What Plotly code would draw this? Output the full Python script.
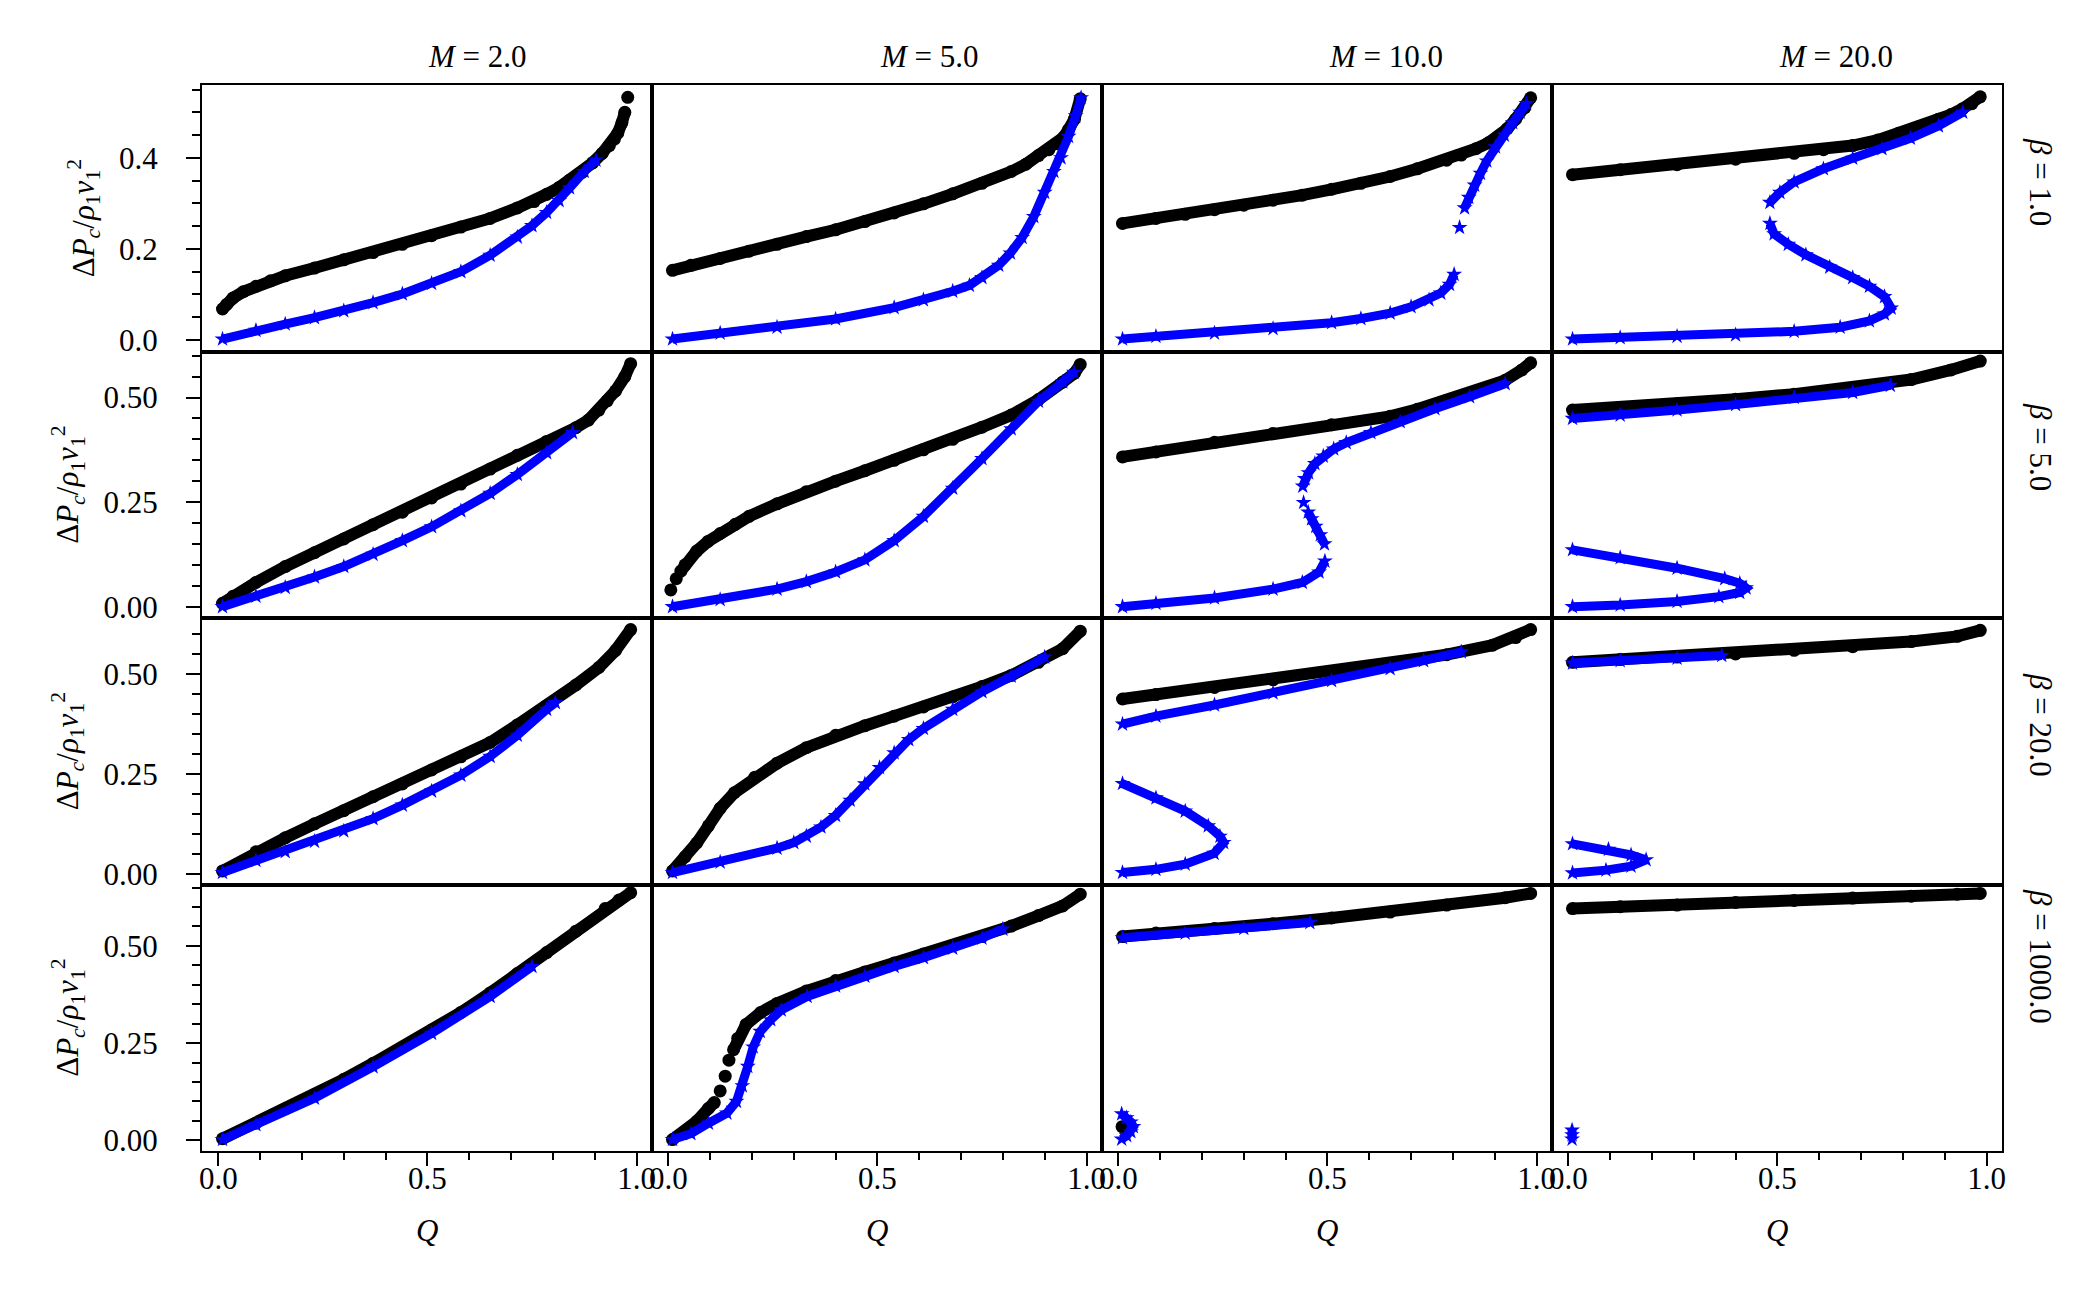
import plotly.graph_objects as go
from plotly.subplots import make_subplots

# ---------------- column / row labels ----------------
M_LABELS = ["2.0", "5.0", "10.0", "20.0"]
BETA_LABELS = ["1.0", "5.0", "20.0", "1000.0"]

# ---------------- data ----------------
# Row 1 : beta = 1.0
Q_M2_B1_K = [0.01, 0.02, 0.035, 0.06, 0.09, 0.125, 0.16, 0.23, 0.30, 0.37, 0.44, 0.51, 0.58, 0.65, 0.715, 0.755, 0.785, 0.815, 0.84, 0.87, 0.895, 0.918, 0.935, 0.947, 0.955, 0.965, 0.972, None, 0.979]
P_M2_B1_K = [0.068, 0.078, 0.092, 0.106, 0.118, 0.130, 0.141, 0.158, 0.176, 0.192, 0.21, 0.229, 0.248, 0.267, 0.29, 0.304, 0.32, 0.335, 0.351, 0.368, 0.389, 0.410, 0.427, 0.441, 0.454, 0.477, 0.50, None, 0.533]
Q_M2_B1_S = [0.01, 0.09, 0.16, 0.23, 0.30, 0.37, 0.44, 0.51, 0.58, 0.65, 0.715, 0.75, 0.785, 0.815, 0.84, 0.875, 0.903]
P_M2_B1_S = [0.002, 0.021, 0.035, 0.049, 0.064, 0.082, 0.101, 0.124, 0.150, 0.186, 0.226, 0.251, 0.280, 0.306, 0.334, 0.370, 0.395]

Q_M5_B1_K = [0.01, 0.054, 0.124, 0.193, 0.26, 0.33, 0.40, 0.47, 0.54, 0.61, 0.68, 0.75, 0.82, 0.855, 0.885, 0.91, 0.93, 0.945, 0.957, 0.971, 0.985]
P_M5_B1_K = [0.153, 0.164, 0.179, 0.195, 0.21, 0.227, 0.242, 0.26, 0.279, 0.299, 0.321, 0.344, 0.37, 0.386, 0.405, 0.418, 0.431, 0.445, 0.462, 0.485, 0.530]
Q_M5_B1_S = [0.01, 0.124, 0.26, 0.40, 0.54, 0.61, 0.68, 0.72, 0.75, 0.79, 0.818, 0.846, 0.874, 0.90, 0.922, 0.939, 0.957, 0.974, 0.987]
P_M5_B1_S = [0.002, 0.015, 0.028, 0.046, 0.071, 0.088, 0.107, 0.120, 0.137, 0.164, 0.191, 0.225, 0.271, 0.324, 0.37, 0.40, 0.447, 0.492, 0.532]

Q_M10_B1_K = [0.01, 0.09, 0.16, 0.23, 0.30, 0.37, 0.44, 0.51, 0.58, 0.65, 0.715, 0.785, 0.82, 0.855, 0.885, 0.91, 0.93, 0.95, 0.972, 0.986]
P_M10_B1_K = [0.256, 0.267, 0.276, 0.286, 0.296, 0.307, 0.318, 0.331, 0.344, 0.359, 0.376, 0.395, 0.406, 0.42, 0.433, 0.448, 0.464, 0.485, 0.51, 0.532]
Q_M10_B1_S = [0.01, 0.09, 0.23, 0.37, 0.51, 0.58, 0.65, 0.70, 0.743, 0.771, 0.792, 0.803, None, 0.816, None, 0.828, 0.838, 0.852, 0.866, 0.881, 0.902, 0.923, 0.943, 0.961, 0.976]
P_M10_B1_S = [0.002, 0.008, 0.015, 0.025, 0.038, 0.047, 0.059, 0.073, 0.088, 0.103, 0.122, 0.144, None, 0.247, None, 0.29, 0.313, 0.34, 0.366, 0.393, 0.424, 0.45, 0.477, 0.50, 0.519]

Q_M20_B1_K = [0.01, 0.124, 0.26, 0.40, 0.54, 0.61, 0.68, 0.74, 0.79, 0.84, 0.885, 0.915, 0.943, 0.965, 0.985]
P_M20_B1_K = [0.363, 0.374, 0.385, 0.397, 0.41, 0.418, 0.427, 0.439, 0.454, 0.469, 0.485, 0.495, 0.508, 0.519, 0.534]
Q_M20_B1_S = [0.01, 0.124, 0.26, 0.40, 0.54, 0.65, 0.72, 0.756, 0.772, 0.756, 0.72, 0.68, 0.625, 0.568, 0.526, 0.492, 0.482, None, 0.482, 0.506, 0.54, 0.61, 0.68, 0.75, 0.818, 0.885, 0.943]
P_M20_B1_S = [0.002, 0.005, 0.008, 0.011, 0.019, 0.028, 0.042, 0.057, 0.070, 0.095, 0.118, 0.137, 0.16, 0.187, 0.21, 0.233, 0.256, None, 0.302, 0.324, 0.347, 0.376, 0.399, 0.42, 0.443, 0.47, 0.50]

# Row 2 : beta = 5.0
Q_M2_B5_K = [0.01, 0.035, 0.09, 0.16, 0.23, 0.30, 0.37, 0.44, 0.51, 0.58, 0.65, 0.715, 0.785, 0.855, 0.885, 0.91, 0.93, 0.95, 0.972, 0.986]
P_M2_B5_K = [0.008, 0.025, 0.058, 0.096, 0.129, 0.162, 0.196, 0.226, 0.26, 0.293, 0.329, 0.362, 0.395, 0.428, 0.446, 0.47, 0.492, 0.516, 0.55, 0.581]
Q_M2_B5_S = [0.01, 0.09, 0.16, 0.23, 0.30, 0.37, 0.44, 0.51, 0.58, 0.65, 0.715, 0.785, 0.847]
P_M2_B5_S = [0.0, 0.025, 0.046, 0.071, 0.096, 0.125, 0.158, 0.191, 0.229, 0.271, 0.316, 0.368, 0.416]

Q_M5_B5_K = [0.006, None, 0.019, None, 0.03, 0.04, 0.068, 0.095, 0.124, 0.16, 0.193, 0.26, 0.33, 0.40, 0.47, 0.54, 0.61, 0.68, 0.75, 0.82, 0.885, 0.943, 0.971, 0.985]
P_M5_B5_K = [0.04, None, 0.067, None, 0.085, 0.10, 0.133, 0.156, 0.175, 0.197, 0.216, 0.246, 0.275, 0.30, 0.325, 0.35, 0.375, 0.40, 0.429, 0.458, 0.495, 0.537, 0.558, 0.579]
Q_M5_B5_S = [0.01, 0.124, 0.26, 0.33, 0.40, 0.47, 0.54, 0.61, 0.68, 0.75, 0.82, 0.885, 0.943, 0.97]
P_M5_B5_S = [0.0, 0.017, 0.042, 0.060, 0.083, 0.112, 0.158, 0.216, 0.283, 0.354, 0.425, 0.491, 0.537, 0.56]

Q_M10_B5_K = [0.01, 0.09, 0.23, 0.37, 0.51, 0.65, 0.715, 0.785, 0.855, 0.925, 0.965, 0.986]
P_M10_B5_K = [0.358, 0.37, 0.393, 0.414, 0.435, 0.455, 0.472, 0.493, 0.515, 0.541, 0.566, 0.583]
Q_M10_B5_S = [0.01, 0.09, 0.23, 0.37, 0.44, 0.48, 0.494, None, 0.493, 0.483, 0.472, 0.462, 0.454, None, 0.443, None, 0.441, 0.446, 0.455, 0.47, 0.49, 0.515, 0.545, 0.604, 0.674, 0.757, 0.84, 0.925]
P_M10_B5_S = [0.0, 0.008, 0.021, 0.042, 0.058, 0.083, 0.109, None, 0.15, 0.172, 0.192, 0.21, 0.226, None, 0.249, None, 0.288, 0.306, 0.32, 0.342, 0.36, 0.377, 0.392, 0.416, 0.442, 0.473, 0.502, 0.533]

Q_M20_B5_K = [0.01, 0.124, 0.26, 0.40, 0.54, 0.68, 0.82, 0.915, 0.985]
P_M20_B5_K = [0.47, 0.476, 0.485, 0.496, 0.508, 0.523, 0.543, 0.566, 0.587]
Q_M20_B5_S = [0.01, 0.124, 0.26, 0.40, 0.54, 0.68, 0.77, None, 0.01, 0.124, 0.26, 0.374, 0.41, 0.425, 0.41, 0.36, 0.26, 0.124, 0.01]
P_M20_B5_S = [0.45, 0.458, 0.47, 0.483, 0.50, 0.512, 0.529, None, 0.136, 0.117, 0.092, 0.067, 0.056, 0.045, 0.034, 0.024, 0.0125, 0.004, 0.0]

# Row 3 : beta = 20.0
Q_M2_B20_K = [0.01, 0.09, 0.16, 0.23, 0.30, 0.37, 0.44, 0.51, 0.58, 0.65, 0.715, 0.785, 0.855, 0.91, 0.95, 0.986]
P_M2_B20_K = [0.007, 0.055, 0.09, 0.125, 0.158, 0.193, 0.225, 0.26, 0.293, 0.329, 0.373, 0.421, 0.473, 0.517, 0.56, 0.612]
Q_M2_B20_S = [0.01, 0.09, 0.16, 0.23, 0.30, 0.37, 0.44, 0.51, 0.58, 0.65, 0.715, 0.785, 0.806]
P_M2_B20_S = [0.003, 0.033, 0.055, 0.081, 0.107, 0.138, 0.172, 0.207, 0.247, 0.294, 0.347, 0.412, 0.429]

Q_M5_B20_K = [0.01, 0.04, 0.068, 0.096, 0.124, 0.158, 0.207, 0.26, 0.33, 0.40, 0.47, 0.54, 0.61, 0.68, 0.75, 0.82, 0.885, 0.943, 0.985]
P_M5_B20_K = [0.007, 0.042, 0.077, 0.12, 0.164, 0.203, 0.242, 0.277, 0.316, 0.347, 0.371, 0.395, 0.418, 0.443, 0.469, 0.497, 0.53, 0.564, 0.608]
Q_M5_B20_S = [0.01, 0.124, 0.26, 0.30, 0.33, 0.365, 0.40, 0.435, 0.47, 0.505, 0.54, 0.575, 0.61, 0.68, 0.75, 0.82, 0.90]
P_M5_B20_S = [0.003, 0.029, 0.064, 0.078, 0.094, 0.117, 0.146, 0.184, 0.225, 0.266, 0.303, 0.336, 0.364, 0.412, 0.456, 0.495, 0.543]

Q_M10_B20_K = [0.01, 0.09, 0.23, 0.37, 0.51, 0.65, 0.785, 0.895, 0.95, 0.986]
P_M10_B20_K = [0.438, 0.449, 0.467, 0.486, 0.505, 0.525, 0.549, 0.573, 0.592, 0.612]
Q_M10_B20_S = [0.01, 0.09, 0.23, 0.37, 0.51, 0.65, 0.73, 0.82, None, 0.01, 0.09, 0.16, 0.215, 0.243, 0.252, 0.229, 0.16, 0.09, 0.01]
P_M10_B20_S = [0.375, 0.395, 0.423, 0.453, 0.484, 0.514, 0.534, 0.556, None, 0.226, 0.19, 0.157, 0.12, 0.094, 0.078, 0.051, 0.024, 0.011, 0.003]

Q_M20_B20_K = [0.01, 0.124, 0.26, 0.40, 0.54, 0.68, 0.82, 0.93, 0.985]
P_M20_B20_K = [0.53, 0.537, 0.543, 0.551, 0.56, 0.569, 0.582, 0.595, 0.61]
Q_M20_B20_S = [0.01, 0.124, 0.26, 0.367, None, 0.01, 0.096, 0.15, 0.186, 0.15, 0.09, 0.01]
P_M20_B20_S = [0.528, 0.534, 0.54, 0.547, None, 0.075, 0.061, 0.047, 0.035, 0.019, 0.009, 0.002]

# Row 4 : beta = 1000.0
Q_M2_B1000_K = [0.01, 0.09, 0.16, 0.23, 0.30, 0.37, 0.44, 0.51, 0.58, 0.65, 0.715, 0.785, 0.855, 0.925, 0.958, 0.986]
P_M2_B1000_K = [0.004, 0.044, 0.081, 0.117, 0.157, 0.198, 0.239, 0.284, 0.329, 0.379, 0.429, 0.483, 0.538, 0.596, 0.618, 0.637]
Q_M2_B1000_S = [0.01, 0.09, 0.23, 0.37, 0.51, 0.65, 0.75]
P_M2_B1000_S = [0.002, 0.04, 0.108, 0.189, 0.275, 0.37, 0.447]

Q_M5_B1000_K = [0.01, 0.04, 0.068, 0.096, 0.11, None, 0.124, None, 0.136, None, 0.145, None, 0.156, 0.166, 0.186, 0.221, 0.26, 0.33, 0.40, 0.47, 0.54, 0.61, 0.68, 0.75, 0.82, 0.885, 0.943, 0.985]
P_M5_B1000_K = [0.002, 0.022, 0.049, 0.082, 0.097, None, 0.127, None, 0.165, None, 0.206, None, 0.233, 0.262, 0.298, 0.329, 0.352, 0.384, 0.411, 0.433, 0.456, 0.479, 0.501, 0.524, 0.551, 0.578, 0.603, 0.633]
Q_M5_B1000_S = [0.01, 0.054, 0.096, 0.14, 0.163, 0.177, 0.19, 0.203, 0.22, 0.245, 0.27, 0.332, 0.40, 0.47, 0.54, 0.61, 0.68, 0.75, 0.80]
P_M5_B1000_S = [0.002, 0.017, 0.044, 0.07, 0.10, 0.14, 0.19, 0.24, 0.28, 0.31, 0.335, 0.37, 0.397, 0.422, 0.447, 0.47, 0.494, 0.52, 0.543]

Q_M10_B1000_K = [0.01, 0.09, 0.23, 0.37, 0.51, 0.65, 0.785, 0.925, 0.986, None, 0.009]
P_M10_B1000_K = [0.524, 0.533, 0.545, 0.557, 0.572, 0.587, 0.605, 0.624, 0.635, None, 0.035]
Q_M10_B1000_S = [0.01, 0.16, 0.30, 0.458, None, 0.008, 0.02, 0.03, 0.036, 0.03, 0.02, 0.008]
P_M10_B1000_S = [0.521, 0.533, 0.545, 0.56, None, 0.068, 0.058, 0.047, 0.035, 0.022, 0.012, 0.003]

Q_M20_B1000_K = [0.01, 0.124, 0.26, 0.40, 0.54, 0.68, 0.82, 0.93, 0.985]
P_M20_B1000_K = [0.596, 0.601, 0.605, 0.612, 0.617, 0.623, 0.628, 0.633, 0.635]
Q_M20_B1000_S = [0.009, 0.009, 0.009]
P_M20_B1000_S = [0.026, 0.014, 0.003]

PANELS = [
    (1, 1, Q_M2_B1_K, P_M2_B1_K, Q_M2_B1_S, P_M2_B1_S),
    (1, 2, Q_M5_B1_K, P_M5_B1_K, Q_M5_B1_S, P_M5_B1_S),
    (1, 3, Q_M10_B1_K, P_M10_B1_K, Q_M10_B1_S, P_M10_B1_S),
    (1, 4, Q_M20_B1_K, P_M20_B1_K, Q_M20_B1_S, P_M20_B1_S),
    (2, 1, Q_M2_B5_K, P_M2_B5_K, Q_M2_B5_S, P_M2_B5_S),
    (2, 2, Q_M5_B5_K, P_M5_B5_K, Q_M5_B5_S, P_M5_B5_S),
    (2, 3, Q_M10_B5_K, P_M10_B5_K, Q_M10_B5_S, P_M10_B5_S),
    (2, 4, Q_M20_B5_K, P_M20_B5_K, Q_M20_B5_S, P_M20_B5_S),
    (3, 1, Q_M2_B20_K, P_M2_B20_K, Q_M2_B20_S, P_M2_B20_S),
    (3, 2, Q_M5_B20_K, P_M5_B20_K, Q_M5_B20_S, P_M5_B20_S),
    (3, 3, Q_M10_B20_K, P_M10_B20_K, Q_M10_B20_S, P_M10_B20_S),
    (3, 4, Q_M20_B20_K, P_M20_B20_K, Q_M20_B20_S, P_M20_B20_S),
    (4, 1, Q_M2_B1000_K, P_M2_B1000_K, Q_M2_B1000_S, P_M2_B1000_S),
    (4, 2, Q_M5_B1000_K, P_M5_B1000_K, Q_M5_B1000_S, P_M5_B1000_S),
    (4, 3, Q_M10_B1000_K, P_M10_B1000_K, Q_M10_B1000_S, P_M10_B1000_S),
    (4, 4, Q_M20_B1000_K, P_M20_B1000_K, Q_M20_B1000_S, P_M20_B1000_S),
]

# ---------------- layout constants ----------------
W, H = 2091, 1292
ML, MR, MT, MB = 194, 97, 77, 149
PW, PH = W - ML - MR, H - MT - MB
FONT = "Liberation Serif"
FS = 31

X_RANGE = [-0.039, 1.037]
ROW_RANGES = [[-0.0253, 0.560], [-0.027, 0.610], [-0.027, 0.641], [-0.0275, 0.658]]
ROW_DTICK = [0.2, 0.25, 0.25, 0.25]
ROW_FMT = [".1f", ".2f", ".2f", ".2f"]

fig = make_subplots(rows=4, cols=4, horizontal_spacing=0, vertical_spacing=0)

for (r, c, qk, pk, qs, ps) in PANELS:
    fig.add_trace(go.Scatter(
        x=qk, y=pk, mode="lines+markers",
        line=dict(color="#000000", width=12),
        marker=dict(color="#000000", size=13, symbol="circle"),
        hoverinfo="skip", showlegend=False), row=r, col=c)
    fig.add_trace(go.Scatter(
        x=qs, y=ps, mode="lines+markers",
        line=dict(color="#0000ff", width=9),
        marker=dict(color="#0000ff", size=12, symbol="star"),
        hoverinfo="skip", showlegend=False), row=r, col=c)

for r in range(1, 5):
    for c in range(1, 5):
        bottom = (r == 4)
        left = (c == 1)
        fig.update_xaxes(
            range=X_RANGE, showline=True, mirror=True, linecolor="black", linewidth=2,
            showgrid=False, zeroline=False,
            ticks="outside" if bottom else "", showticklabels=bottom,
            tick0=0, dtick=0.5, tickformat=".1f", ticklen=13, tickwidth=2, tickcolor="black",
            ticklabelstandoff=-14,
            minor=dict(ticks="outside" if bottom else "", tick0=0, dtick=0.1,
                       ticklen=7, tickwidth=2, tickcolor="black", showgrid=False),
            tickfont=dict(family=FONT, size=FS, color="black"),
            row=r, col=c)
        fig.update_yaxes(
            range=ROW_RANGES[r - 1], showline=True, mirror=True, linecolor="black", linewidth=2,
            showgrid=False, zeroline=False,
            ticks="outside" if left else "", showticklabels=left,
            tick0=0, dtick=ROW_DTICK[r - 1], tickformat=ROW_FMT[r - 1],
            ticklen=14, tickwidth=2, tickcolor="black",
            ticklabelstandoff=22,
            minor=dict(ticks="outside" if left else "", tick0=0, dtick=0.05,
                       ticklen=8, tickwidth=2, tickcolor="black", showgrid=False),
            tickfont=dict(family=FONT, size=FS, color="black"),
            row=r, col=c)


def px_x(px):
    return (px - ML) / PW


def px_y(py):
    return (MT + PH - py) / PH


annotations = []
# column titles
title_x = [469, 921, 1378, 1828]
for i, m in enumerate(M_LABELS):
    annotations.append(dict(text="<i>M</i> = " + m, x=px_x(title_x[i]), y=px_y(49),
                            xref="paper", yref="paper", xanchor="center", yanchor="middle",
                            showarrow=False, font=dict(family=FONT, size=FS, color="black")))
# row labels (right side)
beta_y = [174, 439, 717, 948]
for i, b in enumerate(BETA_LABELS):
    annotations.append(dict(text="<i>β</i> = " + b, x=px_x(2033), y=px_y(beta_y[i]),
                            xref="paper", yref="paper", xanchor="center", yanchor="middle",
                            textangle=90, showarrow=False,
                            font=dict(family=FONT, size=FS, color="black")))
# y labels
ylab = "Δ<i>P</i><sub><i>c</i></sub>/<i>ρ</i><sub>1</sub><i>v</i><sub>1</sub><sup>2</sup>"
row_c = [MT + PH * (k + 0.5) / 4 for k in range(4)]
ylab_x = [76, 60, 60, 60]
for k in range(4):
    annotations.append(dict(text=ylab, x=px_x(ylab_x[k]), y=px_y(row_c[k]),
                            xref="paper", yref="paper", xanchor="center", yanchor="middle",
                            textangle=-90, showarrow=False,
                            font=dict(family=FONT, size=FS, color="black")))
# x labels
col_q_half = [ML + PW * k / 4 + (0.5 - X_RANGE[0]) / (X_RANGE[1] - X_RANGE[0]) * PW / 4 for k in range(4)]
for k in range(4):
    annotations.append(dict(text="<i>Q</i>", x=px_x(col_q_half[k]), y=px_y(1222),
                            xref="paper", yref="paper", xanchor="center", yanchor="middle",
                            showarrow=False, font=dict(family=FONT, size=FS, color="black")))

fig.update_layout(
    width=W, height=H,
    margin=dict(l=ML, r=MR, t=MT, b=MB, autoexpand=False),
    paper_bgcolor="white", plot_bgcolor="white",
    showlegend=False, hovermode=False,
    font=dict(family=FONT, size=FS, color="black"),
    annotations=annotations,
)

fig.write_html("out.html")
